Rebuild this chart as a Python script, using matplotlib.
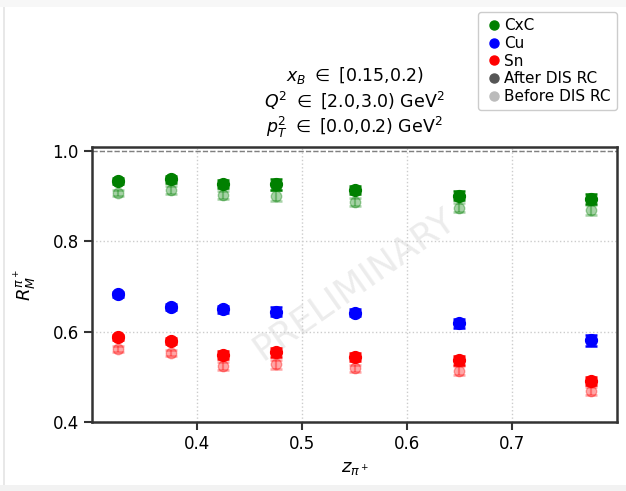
import matplotlib
matplotlib.use("Agg")
import matplotlib.pyplot as plt
from matplotlib.lines import Line2D
from matplotlib.patches import Rectangle

# z bin centres
z = [0.325, 0.375, 0.425, 0.475, 0.55, 0.65, 0.775]

# multiplicity ratios after DIS radiative corrections
cxc_after = [0.933, 0.937, 0.926, 0.926, 0.913, 0.900, 0.894]
cxc_after_err = [0.006, 0.008, 0.009, 0.012, 0.009, 0.010, 0.011]
cu_after = [0.682, 0.655, 0.649, 0.644, 0.642, 0.618, 0.581]
cu_after_err = [0.005, 0.007, 0.008, 0.010, 0.008, 0.010, 0.012]
sn_after = [0.587, 0.579, 0.549, 0.554, 0.544, 0.537, 0.491]
sn_after_err = [0.006, 0.007, 0.009, 0.010, 0.008, 0.010, 0.009]

# multiplicity ratios before DIS radiative corrections
cxc_before = [0.906, 0.913, 0.902, 0.900, 0.887, 0.874, 0.868]
cxc_before_err = [0.006, 0.008, 0.009, 0.012, 0.009, 0.010, 0.011]
sn_before = [0.561, 0.552, 0.523, 0.528, 0.519, 0.513, 0.469]
sn_before_err = [0.006, 0.007, 0.009, 0.010, 0.008, 0.010, 0.009]

fig = plt.figure(figsize=(6.26, 4.91), dpi=100)
ax = fig.add_axes([0.147, 0.1405, 0.8386, 0.56])

# light frame around the figure
fig.patches.append(Rectangle((0, 1 - 7 / 491), 1, 7 / 491, transform=fig.transFigure,
                             facecolor="#f7f7f7", edgecolor="none", zorder=-5))
fig.patches.append(Rectangle((0, 0), 1, 6 / 491, transform=fig.transFigure,
                             facecolor="#f2f2f2", edgecolor="none", zorder=-5))
fig.patches.append(Rectangle((3 / 626, 6 / 491), 1.5 / 626, 1 - 13 / 491,
                             transform=fig.transFigure,
                             facecolor="#e8e8e8", edgecolor="none", zorder=-5))

def draw(y, err, color, alpha, ms):
    ax.errorbar(z, y, yerr=err, fmt="o", color=color, alpha=alpha,
                markersize=ms, capsize=4, elinewidth=1.6, capthick=1.8, zorder=3)

draw(cxc_before, cxc_before_err, "green", 0.35, 7.5)
draw(sn_before, sn_before_err, "red", 0.35, 7.5)
draw(cxc_after, cxc_after_err, "green", 1.0, 8.5)
draw(cu_after, cu_after_err, "blue", 1.0, 8.5)
draw(sn_after, sn_after_err, "red", 1.0, 8.5)

ax.axhline(1.0, color="gray", linestyle="--", linewidth=1.0, zorder=2)

ax.set_xlim(0.3, 0.8)
ax.set_ylim(0.4, 1.008)
ax.set_xticks([0.4, 0.5, 0.6, 0.7])
ax.set_yticks([0.4, 0.6, 0.8, 1.0])
ax.grid(True, linestyle=":", color="#cccccc", linewidth=1.0)
ax.tick_params(labelsize=12, length=6, width=1.5, color="#333333")
for s in ax.spines.values():
    s.set_linewidth(1.8)
    s.set_color("#333333")

ax.set_xlabel(r"$z_{\pi^+}$", fontsize=13)
ax.set_ylabel(r"$R_M^{\pi^+}$", fontsize=13, labelpad=10)
ax.set_title("$x_B$ $\\in$ [0.15,0.2)\n$Q^2$ $\\in$ [2.0,3.0) GeV$^2$\n"
             "$p_T^2$ $\\in$ [0.0,0.2) GeV$^2$", fontsize=12.5, linespacing=1.2, pad=10)

ax.text(0.5, 0.5, "PRELIMINARY", transform=ax.transAxes, fontsize=26,
        color="gray", alpha=0.15, rotation=35, ha="center", va="center", zorder=1)

handles = [
    Line2D([], [], marker="o", linestyle="none", color="green", markersize=6.5),
    Line2D([], [], marker="o", linestyle="none", color="blue", markersize=6.5),
    Line2D([], [], marker="o", linestyle="none", color="red", markersize=6.5),
    Line2D([], [], marker="o", linestyle="none", color="#555555", markersize=6.5),
    Line2D([], [], marker="o", linestyle="none", color="#bbbbbb", markersize=6.5),
]
labels = ["CxC", "Cu", "Sn", "After DIS RC", "Before DIS RC"]
fig.legend(handles, labels, loc="upper right", bbox_to_anchor=(617 / 626, 1 - 12 / 491),
           fontsize=11, labelspacing=0.18, handletextpad=0.1, borderpad=0.4,
           handlelength=1.2, framealpha=1.0, borderaxespad=0)

fig.savefig("out.png", dpi=100)
